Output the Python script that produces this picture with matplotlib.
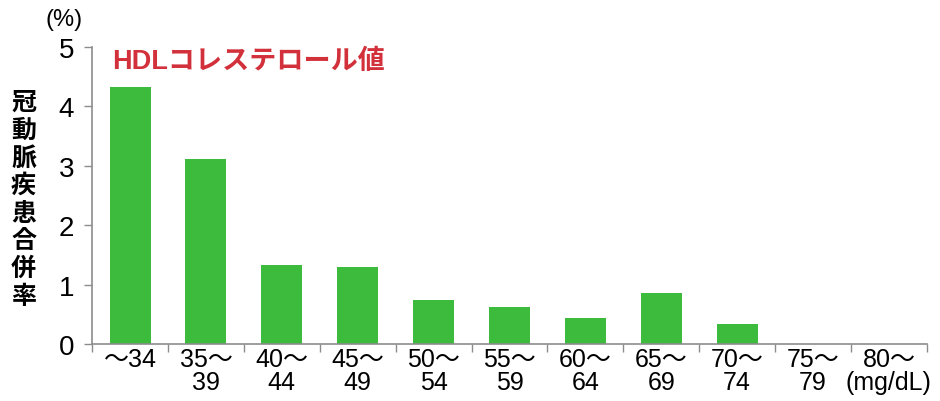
import matplotlib
matplotlib.use('Agg')
import matplotlib.pyplot as plt
import numpy as np

plt.rcParams['font.family'] = ['Liberation Sans', 'Noto Sans CJK JP', 'DejaVu Sans']

# HDL区分ごとの冠動脈疾患合併率
categories = ['〜34', '35〜\n39', '40〜\n44', '45〜\n49', '50〜\n54', '55〜\n59',
              '60〜\n64', '65〜\n69', '70〜\n74', '75〜\n79', '80〜\n(mg/dL)']
rates = [4.33, 3.11, 1.33, 1.30, 0.74, 0.62, 0.44, 0.86, 0.34, 0.0, 0.0]
yticks = [0, 1, 2, 3, 4, 5]

green = '#3dbb3d'
axis_gray = '#8c8c8c'

fig = plt.figure(figsize=(9.4, 4.02), dpi=100)
ax = fig.add_axes([0.098, 0.142, 0.888, 0.739])

x = np.arange(len(categories))
ax.bar(x, rates, width=0.54, color=green, zorder=2)

ax.set_xlim(-0.5, len(categories) - 0.5)
ax.set_ylim(0, 5)
ax.set_yticks(yticks)
ax.set_yticklabels([str(v) for v in yticks], fontsize=20)
ax.set_xticks(x)
ax.set_xticklabels(categories, fontsize=18, linespacing=0.95)
ax.tick_params(axis='x', length=0, pad=2)
ax.tick_params(axis='y', length=6, width=1, color=axis_gray, pad=7)

# 区切りの小さな目盛り
ax.set_xticks(np.arange(-0.5, len(categories)), minor=True)
ax.tick_params(axis='x', which='minor', length=6, width=1, color=axis_gray, direction='out')

for side in ['top', 'right']:
    ax.spines[side].set_visible(False)
for side in ['left', 'bottom']:
    ax.spines[side].set_color(axis_gray)
    ax.spines[side].set_linewidth(1.2)

ax.text(0.024, 0.995, 'HDLコレステロール値', transform=ax.transAxes, fontsize=19.5,
        fontweight='bold', color='#d2303a', va='top', ha='left',
        family=['Liberation Sans', 'Noto Sans CJK JP'])

fig.text(0.068, 0.95, '(%)', fontsize=17, ha='center', va='center')

# 縦書きの軸ラベル
ylabel = '冠動脈疾患合併率'
for i, ch in enumerate(ylabel):
    fig.text(0.025, 1 - (103 + i * 27.7) / 402, ch, fontsize=18, fontweight='bold',
             ha='center', va='center', family=['Noto Sans CJK JP'])

fig.savefig('out.png', dpi=100, facecolor='white')
